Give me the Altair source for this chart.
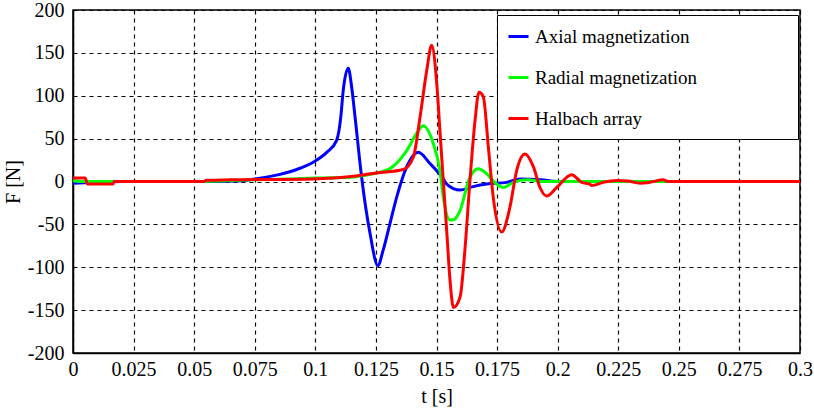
import altair as alt
import pandas as pd

series_names = ["Axial magnetization", "Radial magnetization", "Halbach array"]
series_colors = ["#0000ff", "#00ff00", "#ff0000"]

axial_t = [0, 0.01, 0.02, 0.05, 0.07, 0.075, 0.085, 0.0923, 0.1, 0.1047, 0.1088, 0.1105,
           0.1115, 0.1136, 0.115, 0.1164, 0.1191, 0.1226, 0.1258, 0.128, 0.1308, 0.1336,
           0.1377, 0.1425, 0.1473, 0.1528, 0.1542, 0.1597, 0.1651, 0.1707, 0.179, 0.1845,
           0.193, 0.2, 0.3]
axial_f = [-2, -1, 0, 0, 1, 3, 8, 14, 24, 34, 48, 75,
           106, 132, 110, 75, 5, -61, -98, -80, -49, -18,
           17, 34, 21, 3, -3, -10, -6, -3, -1, 3,
           2, 0, 0]

radial_t = [0, 0.005, 0.05, 0.075, 0.09, 0.1, 0.115, 0.12, 0.1267, 0.1308, 0.1377, 0.1418,
            0.1445, 0.1487, 0.1514, 0.1528, 0.1556, 0.1575, 0.1597, 0.1638, 0.1673, 0.1707,
            0.1748, 0.1776, 0.1817, 0.1872, 0.195, 0.3]
radial_f = [1, 0, 0, 2, 3, 4, 5, 7, 11, 15, 36, 56,
            65, 44, 13, -18, -45, -44, -34, 5, 15, 9,
            -3, -7, -1, 2, 0, 0]

halbach_t = [0, 0.005, 0.006, 0.0165, 0.017, 0.054, 0.055, 0.065, 0.099, 0.1156, 0.1253,
             0.1363, 0.1404, 0.1432, 0.146, 0.148, 0.150, 0.1514, 0.1528, 0.1542, 0.1556,
             0.157, 0.1597, 0.1618, 0.1638, 0.1659, 0.1675, 0.1693, 0.1714, 0.1734, 0.1769,
             0.1803, 0.1831, 0.1865, 0.19, 0.1927, 0.1955, 0.1996, 0.2058, 0.2099, 0.2133,
             0.214, 0.2188, 0.2243, 0.229, 0.234, 0.238, 0.2436, 0.2455, 0.3]
halbach_f = [4, 4, -3, -3, 0, 0, 1.5, 2, 3, 6, 10,
             14, 28, 75, 130, 159, 118, 60, 1, -57, -116,
             -147, -135, -77, 1, 71, 104, 99, 40, -18, -59,
             -30, 13, 32, 17, -7, -17, -7, 8, -1, -3,
             -4.7, -1, 1.2, 0.5, -2, -1, 2, 0, 0]

x_ticks = [0, 0.025, 0.05, 0.075, 0.1, 0.125, 0.15, 0.175, 0.2, 0.225, 0.25, 0.275, 0.3]
y_ticks = [-200, -150, -100, -50, 0, 50, 100, 150, 200]

rows = []
for name, ts, fs in [(series_names[0], axial_t, axial_f),
                     (series_names[1], radial_t, radial_f),
                     (series_names[2], halbach_t, halbach_f)]:
    for t, f in zip(ts, fs):
        rows.append({"t": t, "F": f, "series": name})
df = pd.DataFrame(rows)

font = "Liberation Serif"
# trailing no-break spaces widen the legend box; a zero-width non-joiner keeps them from being trimmed
pad_spaces = "\u00a0" * 19 + "\u200c"

axis_style = dict(
    grid=True, gridColor="black", gridDash=[4, 4], gridWidth=1.2, gridOpacity=1,
    domainColor="black", domainWidth=1.5, ticks=False,
    labelFont=font, labelFontSize=20, labelColor="black", labelFlush=False,
    titleFont=font, titleFontSize=20, titleFontWeight="normal", titleColor="black",
    labelExpr="'' + datum.value",
)

chart = alt.Chart(df).mark_line(strokeWidth=3, interpolate="monotone").encode(
    x=alt.X("t:Q", scale=alt.Scale(domain=[0, 0.3], nice=False, zero=False),
            axis=alt.Axis(values=x_ticks, title="t [s]", labelPadding=6, titlePadding=7,
                          **axis_style)),
    y=alt.Y("F:Q", scale=alt.Scale(domain=[-200, 200], nice=False),
            axis=alt.Axis(values=y_ticks, title="F [N]", labelPadding=9, titlePadding=4,
                          **axis_style)),
    color=alt.Color("series:N", scale=alt.Scale(domain=series_names, range=series_colors),
                    legend=alt.Legend(title=None, orient="none", legendX=424, legendY=5,
                                      fillColor="white", strokeColor="black", padding=10,
                                      symbolType="stroke", symbolStrokeWidth=3, symbolSize=400,
                                      labelFont=font, labelFontSize=19, labelColor="black",
                                      labelOffset=5, rowPadding=19, labelLimit=500,
                                      labelExpr="datum.label + '" + pad_spaces + "'")),
).properties(
    width=727, height=343,
    padding={"left": 73, "top": 10, "right": 14, "bottom": 57},
    autosize=alt.AutoSizeParams(type="none"),
    background="white",
).configure_view(
    stroke="black", strokeWidth=1.5
)

chart.save("out.html", embed_options={"renderer": "svg", "actions": False})
